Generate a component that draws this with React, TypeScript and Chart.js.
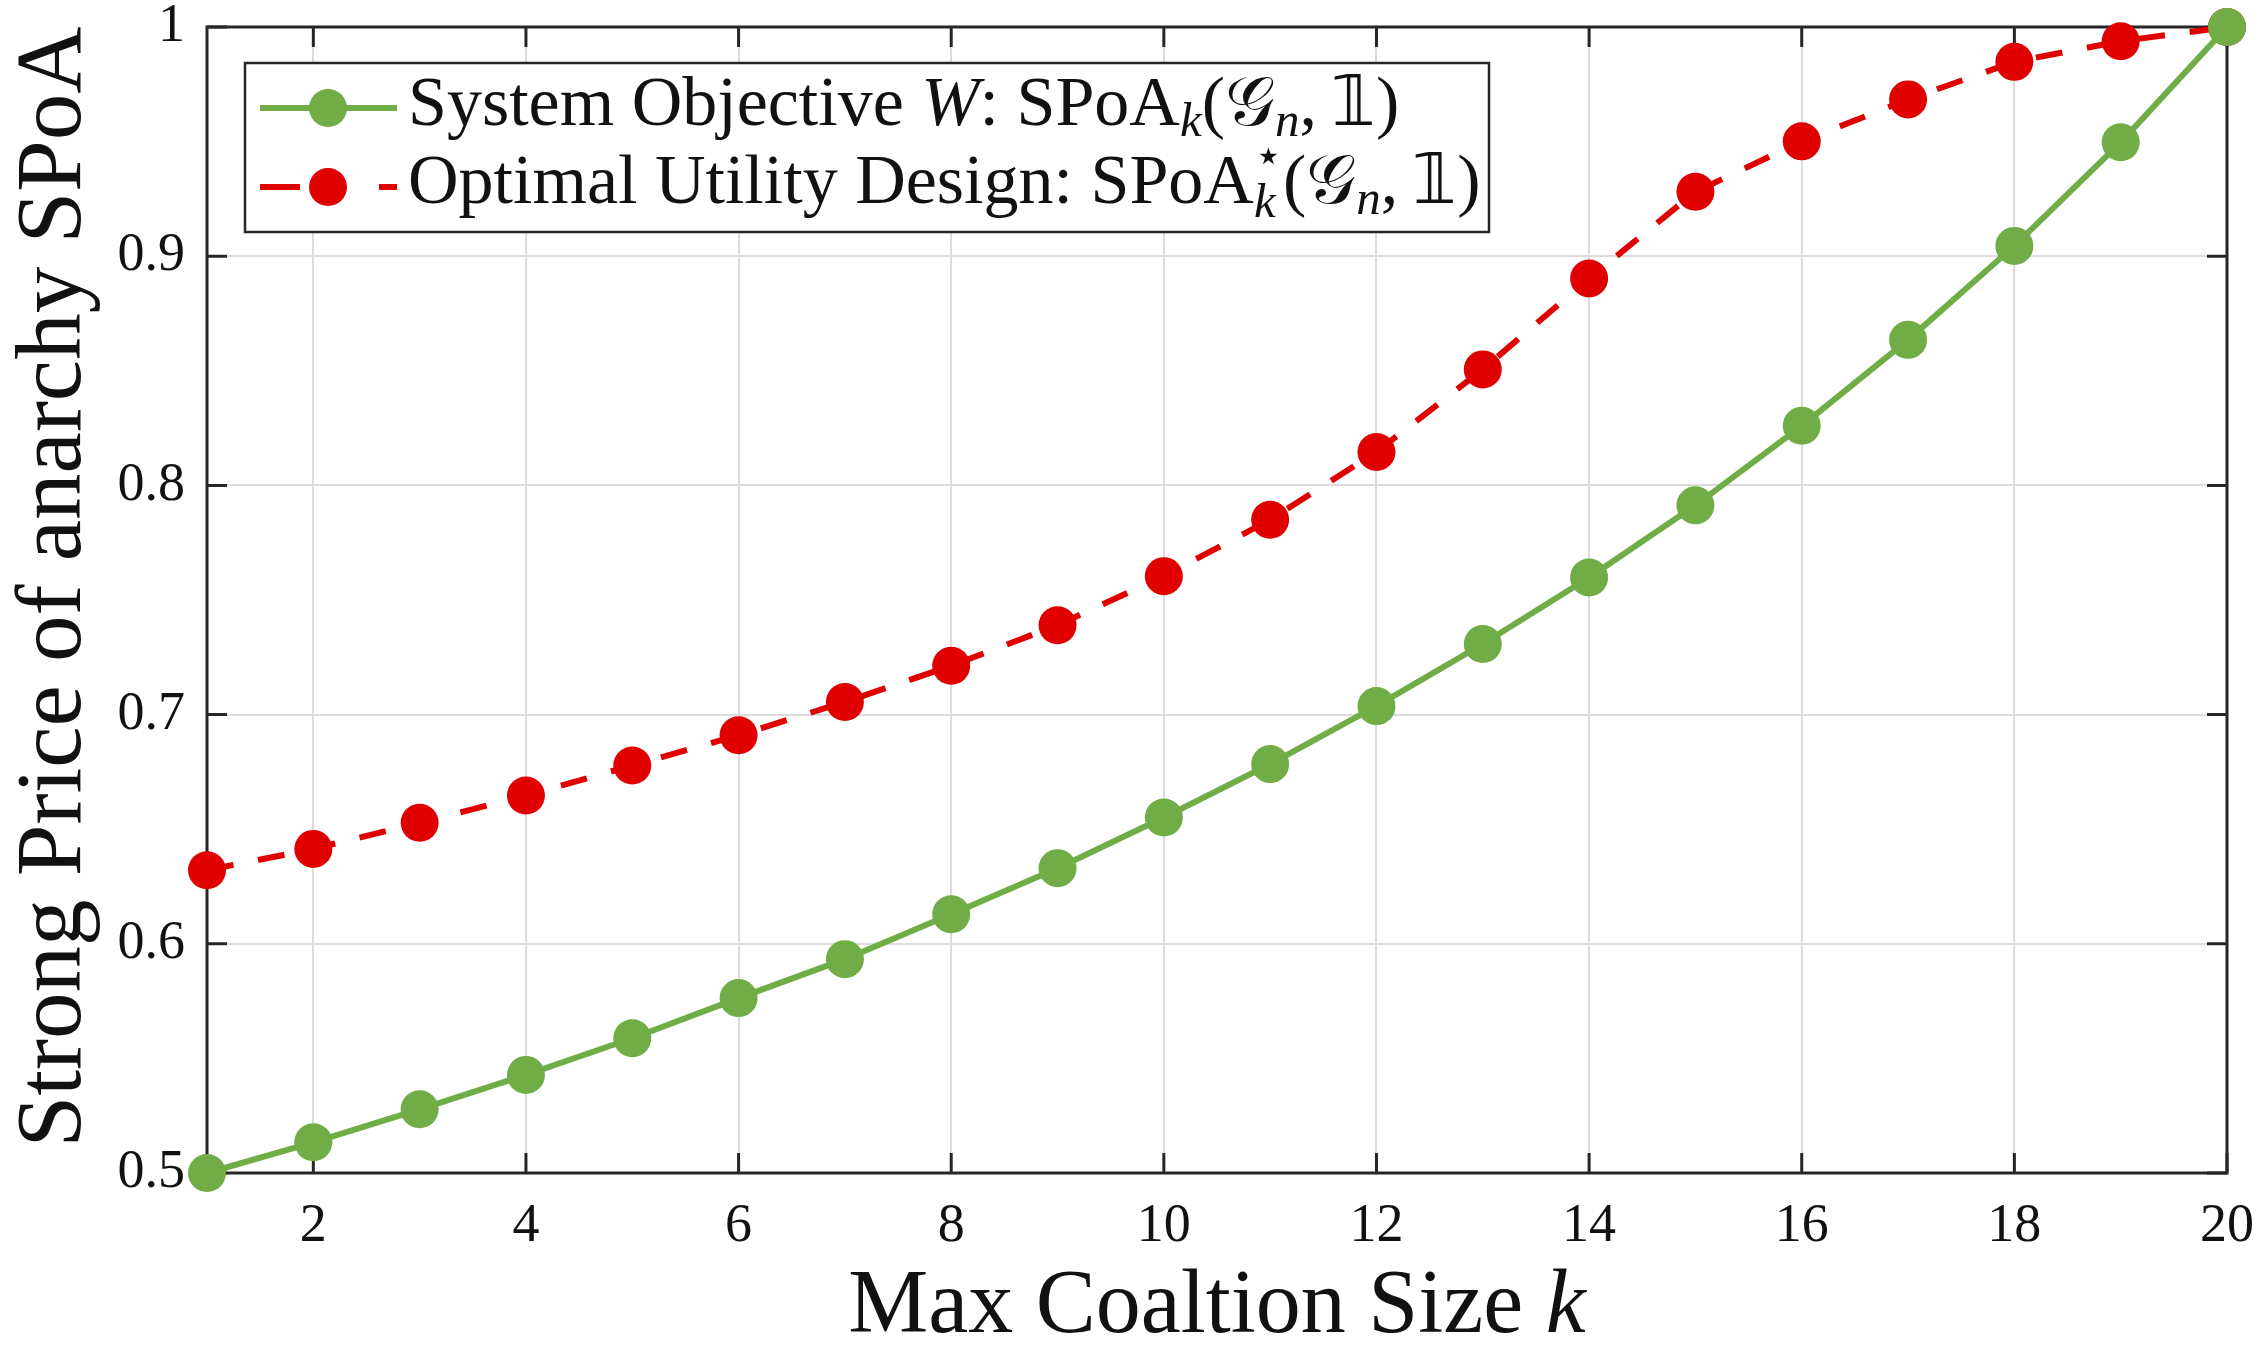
import { useEffect, useRef } from "react";
import { Chart, registerables } from "chart.js";

Chart.register(...registerables);

// ---------- data ----------
const coalitionSizes = [1, 2, 3, 4, 5, 6, 7, 8, 9, 10, 11, 12, 13, 14, 15, 16, 17, 18, 19, 20];
const systemObjective = [
  0.5, 0.5134, 0.5278, 0.5428, 0.5588, 0.5763, 0.5933, 0.6129, 0.633, 0.6551,
  0.6784, 0.7037, 0.7308, 0.7598, 0.7913, 0.826, 0.8635, 0.9045, 0.9497, 1.0,
];
const optimalDesign = [
  0.6321, 0.6414, 0.6528, 0.6647, 0.6778, 0.691, 0.7055, 0.7213, 0.739, 0.7604,
  0.785, 0.8146, 0.8506, 0.8903, 0.9281, 0.9501, 0.9684, 0.9848, 0.9938, 1.0,
];
const xTickValues = [2, 4, 6, 8, 10, 12, 14, 16, 18, 20];
const yTickValues = [0.5, 0.6, 0.7, 0.8, 0.9, 1];
const yTickLabels = ["0.5", "0.6", "0.7", "0.8", "0.9", "1"];
const xTitleText = "Max Coaltion Size ";
const xTitleVar = "k";
const yTitleText = "Strong Price of anarchy SPoA";

// ---------- style ----------
const W = 2265;
const H = 1346;
const SERIF = "'Liberation Serif', 'Times New Roman', serif";
const GREEN = "#70ad47";
const RED = "#e00000";
const AXIS = "#262626";

type Seg = { t: string; italic?: boolean; size?: number; dy?: number; stack?: { t: string; size: number; dy: number; italic?: boolean }[] };

function drawRich(ctx: CanvasRenderingContext2D, x: number, y: number, segs: Seg[], base: number) {
  let cx = x;
  for (const s of segs) {
    if (s.stack) {
      let maxW = 0;
      for (const st of s.stack) {
        ctx.font = `${st.italic ? "italic " : ""}${st.size}px ${SERIF}`;
        ctx.fillText(st.t, cx, y + st.dy);
        maxW = Math.max(maxW, ctx.measureText(st.t).width);
      }
      cx += maxW;
      continue;
    }
    const size = s.size ?? base;
    ctx.font = `${s.italic ? "italic " : ""}${size}px ${SERIF}`;
    ctx.fillText(s.t, cx, y + (s.dy ?? 0));
    cx += ctx.measureText(s.t).width;
  }
}

const framePlugin = {
  id: "matlabFrame",
  beforeDatasetsDraw(chart: any) {
    const { ctx, chartArea } = chart;
    const { left, right, top, bottom } = chartArea;
    const xs = chart.scales.x;
    const ys = chart.scales.y;
    ctx.save();
    ctx.strokeStyle = AXIS;
    ctx.lineWidth = 3;
    ctx.strokeRect(left, top, right - left, bottom - top);
    const tl = 20;
    ctx.beginPath();
    for (const v of xTickValues) {
      const px = xs.getPixelForValue(v);
      ctx.moveTo(px, bottom);
      ctx.lineTo(px, bottom - tl);
      ctx.moveTo(px, top);
      ctx.lineTo(px, top + tl);
    }
    for (const v of yTickValues) {
      const py = ys.getPixelForValue(v);
      ctx.moveTo(left, py);
      ctx.lineTo(left + tl, py);
      ctx.moveTo(right, py);
      ctx.lineTo(right - tl, py);
    }
    ctx.stroke();
    ctx.restore();
  },
  afterDatasetsDraw(chart: any) {
    const { ctx } = chart;
    ctx.save();
    // legend box
    const bx = 245, by = 63, bw = 1244, bh = 169;
    ctx.fillStyle = "#ffffff";
    ctx.fillRect(bx, by, bw, bh);
    ctx.strokeStyle = AXIS;
    ctx.lineWidth = 2.5;
    ctx.strokeRect(bx, by, bw, bh);

    const rows = [
      { color: GREEN, dash: [] as number[], yc: 108 },
      { color: RED, dash: [40, 79], yc: 187 },
    ];
    for (const r of rows) {
      ctx.strokeStyle = r.color;
      ctx.lineWidth = 6;
      ctx.setLineDash(r.dash);
      ctx.beginPath();
      ctx.moveTo(260, r.yc);
      ctx.lineTo(397, r.yc);
      ctx.stroke();
      ctx.setLineDash([]);
      ctx.fillStyle = r.color;
      ctx.beginPath();
      ctx.arc(328, r.yc, 19, 0, Math.PI * 2);
      ctx.fill();
    }
    ctx.fillStyle = "#111111";
    ctx.textAlign = "left";
    ctx.textBaseline = "alphabetic";
    const fs = 70;
    const sub = 49;
    drawRich(ctx, 408, 125, [
      { t: "System Objective " },
      { t: "W", italic: true },
      { t: ": SPoA" },
      { t: "k", italic: true, size: sub, dy: 11 },
      { t: "(" },
      { t: "\u{1D4A2}" },
      { t: "n", italic: true, size: sub, dy: 11 },
      { t: ",\u2009" },
      { t: "\u{1D7D9}" },
      { t: ")" },
    ], fs);
    drawRich(ctx, 408, 203, [
      { t: "Optimal Utility Design: SPoA" },
      { t: "", stack: [
        { t: "\u22C6", size: 46, dy: -32 },
        { t: "k", size: sub, dy: 14, italic: true },
      ] },
      { t: "(" },
      { t: "\u{1D4A2}" },
      { t: "n", italic: true, size: sub, dy: 11 },
      { t: ",\u2009" },
      { t: "\u{1D7D9}" },
      { t: ")" },
    ], fs);
    ctx.restore();
  },
  afterDraw(chart: any) {
    const { ctx, chartArea } = chart;
    ctx.save();
    ctx.fillStyle = "#111111";
    ctx.textBaseline = "alphabetic";
    // x title
    const fsx = 90;
    ctx.font = `${fsx}px ${SERIF}`;
    const w1 = ctx.measureText(xTitleText).width;
    ctx.font = `italic ${fsx}px ${SERIF}`;
    const w2 = ctx.measureText(xTitleVar).width;
    const cxm = (chartArea.left + chartArea.right) / 2;
    const startX = cxm - (w1 + w2) / 2;
    ctx.textAlign = "left";
    ctx.font = `${fsx}px ${SERIF}`;
    ctx.fillText(xTitleText, startX, 1332);
    ctx.font = `italic ${fsx}px ${SERIF}`;
    ctx.fillText(xTitleVar, startX + w1, 1332);
    // y title
    ctx.translate(80, 587);
    ctx.rotate(-Math.PI / 2);
    ctx.textAlign = "center";
    ctx.font = `93px ${SERIF}`;
    ctx.fillText(yTitleText, 0, 0);
    ctx.restore();
  },
};

export default function App() {
  const canvasRef = useRef<HTMLCanvasElement | null>(null);

  useEffect(() => {
    document.body.style.margin = "0";
    const canvas = canvasRef.current;
    if (!canvas) return;
    const chart = new Chart(canvas, {
      type: "line",
      data: {
        datasets: [
          {
            label: "System Objective",
            data: coalitionSizes.map((k, i) => ({ x: k, y: systemObjective[i] })),
            borderColor: GREEN,
            backgroundColor: GREEN,
            borderWidth: 6,
            pointRadius: 19,
            pointBorderWidth: 0,
            pointBackgroundColor: GREEN,
            pointStyle: "circle",
            tension: 0,
            clip: false,
          },
          {
            label: "Optimal Utility Design",
            data: coalitionSizes.map((k, i) => ({ x: k, y: optimalDesign[i] })),
            borderColor: RED,
            backgroundColor: RED,
            borderWidth: 6,
            borderDash: [27, 25],
            pointRadius: 19,
            pointBorderWidth: 0,
            pointBackgroundColor: RED,
            pointStyle: "circle",
            tension: 0,
            clip: false,
          },
        ],
      },
      options: {
        responsive: false,
        animation: false,
        devicePixelRatio: 1,
        layout: { padding: { top: 27, right: 38, left: 0, bottom: 0 } },
        plugins: { legend: { display: false }, tooltip: { enabled: false } },
        scales: {
          x: {
            type: "linear",
            min: 1,
            max: 20,
            afterBuildTicks: (s: any) => {
              s.ticks = xTickValues.map((v) => ({ value: v }));
            },
            afterFit: (s: any) => {
              s.height = H - 1173;
              s.paddingLeft = 0;
              s.paddingRight = 0;
            },
            grid: { color: "#dcdcdc", lineWidth: 2, drawTicks: false },
            border: { display: false },
            ticks: {
              padding: 21,
              color: "#111111",
              font: { family: SERIF, size: 54 },
              maxRotation: 0,
              autoSkip: false,
              callback: (v: any) => String(v),
            },
          },
          y: {
            type: "linear",
            min: 0.5,
            max: 1,
            afterBuildTicks: (s: any) => {
              s.ticks = yTickValues.map((v) => ({ value: v }));
            },
            afterFit: (s: any) => {
              s.width = 207;
              s.paddingTop = 0;
              s.paddingBottom = 0;
            },
            grid: { color: "#dcdcdc", lineWidth: 2, drawTicks: false },
            border: { display: false },
            ticks: {
              padding: 22,
              color: "#111111",
              font: { family: SERIF, size: 54 },
              autoSkip: false,
              callback: (v: any) => {
                const i = yTickValues.findIndex((t) => Math.abs(t - v) < 1e-9);
                return i >= 0 ? yTickLabels[i] : "";
              },
            },
          },
        },
      },
      plugins: [framePlugin],
    } as any);
    return () => chart.destroy();
  }, []);

  return (
    <div style={{ width: W, height: H, background: "#ffffff" }}>
      <canvas ref={canvasRef} width={W} height={H} style={{ display: "block", width: W, height: H }} />
    </div>
  );
}
